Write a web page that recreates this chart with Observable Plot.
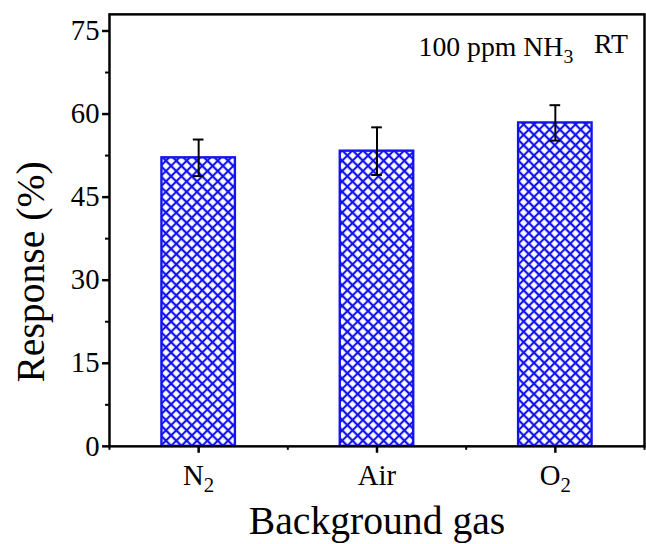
<!DOCTYPE html>
<html><head><meta charset="utf-8">
<script src="https://cdn.jsdelivr.net/npm/d3@7"></script>
<script src="https://cdn.jsdelivr.net/npm/@observablehq/plot@0.6"></script>
<style>
html,body{margin:0;padding:0;background:#fff;overflow:hidden;width:646px;height:544px}
</style>
</head><body><div id="chart"></div>
<script>
// ---- data ----
const categories = ["N2", "Air", "O2"];
const categoryLabelParts = [["N", "2"], ["Air", ""], ["O", "2"]];
const responses = [52.1, 53.3, 58.4];
const errors = [3.3, 4.3, 3.2];
const yTicks = [0, 15, 30, 45, 60, 75];
const yMinorTicks = [7.5, 22.5, 37.5, 52.5, 67.5];
const xTicks = [1, 2, 3];
const xMinorTicks = [0.5, 1.5, 2.5, 3.5];
const annotationParts = ["100 ppm NH", "3", "   RT"];
const annotationPos = [{x: 2.233, y: 72.1}];

const rows = categories.map((c, i) => ({pos: xTicks[i], cat: c, value: responses[i], err: errors[i]}));
const halfBar = 0.206, halfCap = 0.03;
const font = "'Liberation Serif', 'Times New Roman', Times, serif";
const blue = "#1212f2";

const plot = Plot.plot({
  width: 652, height: 544,
  marginLeft: 110, marginRight: 2, marginTop: 14, marginBottom: 94,
  style: {fontFamily: font, fontSize: "29px", color: "black", background: "white", overflow: "visible"},
  x: {type: "linear", domain: [0.5, 3.5]},
  y: {domain: [0, 78]},
  marks: [
    Plot.rectY(rows, {x1: d => d.pos - halfBar, x2: d => d.pos + halfBar, y1: 0, y2: "value",
      fill: "url(#xhatch)", stroke: blue, strokeWidth: 2.4}),
    Plot.ruleX(rows, {x: "pos", y1: d => d.value - d.err, y2: d => d.value + d.err, stroke: "black", strokeWidth: 2}),
    Plot.ruleY(rows, {x1: d => d.pos - halfCap, x2: d => d.pos + halfCap, y: d => d.value + d.err, stroke: "black", strokeWidth: 2}),
    Plot.ruleY(rows, {x1: d => d.pos - halfCap, x2: d => d.pos + halfCap, y: d => d.value - d.err, stroke: "black", strokeWidth: 2}),
    Plot.axisY({ticks: yTicks, tickSize: 7, tickPadding: 3, strokeWidth: 2.5, fontSize: 29, fontFamily: font,
      label: "Response (%)", labelAnchor: "center", labelArrow: "none", labelOffset: 94}),
    Plot.axisY({ticks: yMinorTicks, tickSize: 4, strokeWidth: 2, tickFormat: () => "", label: null}),
    Plot.axisX({ticks: xTicks, tickSize: 7, tickPadding: 11, strokeWidth: 2.5, fontSize: 29, fontFamily: font,
      tickFormat: v => categories[v - 1],
      label: "Background gas", labelAnchor: "center", labelArrow: "none", labelOffset: 88}),
    Plot.axisX({ticks: xMinorTicks, tickSize: 4, strokeWidth: 2, tickFormat: () => "", label: null}),
    Plot.frame({stroke: "black", strokeWidth: 2.5}),
    Plot.text(annotationPos, {x: "x", y: "y", text: () => annotationParts.join(""), textAnchor: "start",
      fontSize: 28, fontFamily: font, fill: "black"})
  ]
});

const svg = d3.select(plot);
const defs = svg.insert("defs", ":first-child");
const P = 7.4;
const pat = defs.append("pattern").attr("id", "xhatch").attr("patternUnits", "userSpaceOnUse")
  .attr("width", P).attr("height", P).attr("patternTransform", "rotate(45)");
pat.append("rect").attr("width", P).attr("height", P).attr("fill", "white");
pat.append("path").attr("d", `M0,${P/2}H${P}M${P/2},0V${P}`).attr("stroke", blue).attr("stroke-width", 2.1);

// axis titles bigger; y title sits centred on the whole figure
svg.selectAll('g[aria-label="y-axis label"] text, g[aria-label="x-axis label"] text').attr("font-size", 40);
const yLab = svg.select('g[aria-label="y-axis label"]');
yLab.attr("transform", "translate(0,42) " + (yLab.attr("transform") || ""));

// subscripts in x tick labels
svg.selectAll('g[aria-label="x-axis tick label"] text').each(function() {
  const t = d3.select(this);
  const idx = categories.indexOf(t.text());
  if (idx < 0) return;
  const [a, b] = categoryLabelParts[idx];
  t.text(null);
  t.append("tspan").text(a);
  if (b) t.append("tspan").attr("font-size", 21).attr("dy", "0.35em").text(b);
});
// subscript in annotation
svg.selectAll('g[aria-label="text"] text').each(function() {
  const t = d3.select(this);
  t.text(null);
  t.append("tspan").text(annotationParts[0]);
  t.append("tspan").attr("font-size", 20).attr("dy", "0.35em").text(annotationParts[1]);
  t.append("tspan").attr("dy", "-0.35em").style("white-space", "pre").text(annotationParts[2]);
});

// force serif font on every text
svg.selectAll("text, tspan").style("font-family", font, "important").attr("font-variant", null);

document.getElementById("chart").appendChild(plot);
</script></body></html>
